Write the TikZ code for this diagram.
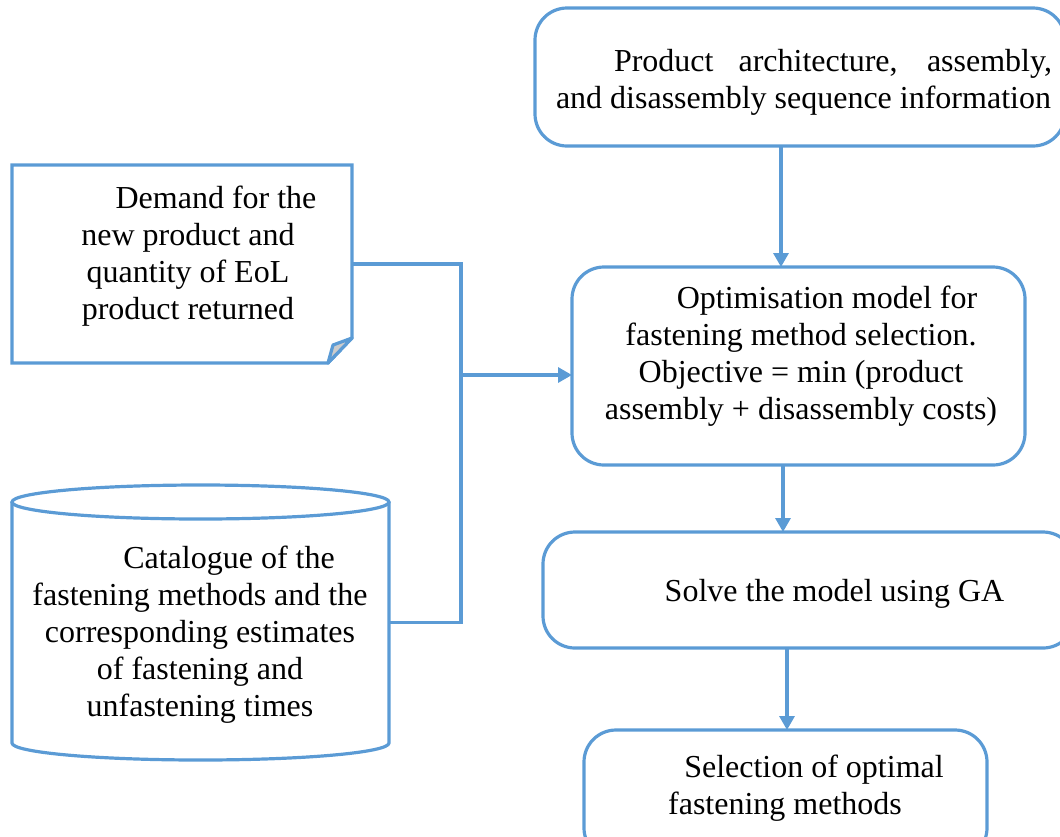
\documentclass[tikz,border=0pt]{standalone}
\usepackage{fontspec}
\setmainfont{Liberation Serif}
\usetikzlibrary{arrows.meta,calc}
\definecolor{flowblue}{HTML}{5B9BD5}
\definecolor{foldgrey}{HTML}{CCCCCC}
\begin{document}
\begin{tikzpicture}[x=0.5pt,y=-0.5pt,
  line width=1.6pt,
  every node/.style={inner sep=0pt,outer sep=0pt},
  txt/.style={font=\fontsize{16}{18.5}\selectfont,align=center},
  procbox/.style={draw=flowblue,rounded corners=16pt,line width=1.6pt},
  shapebox/.style={draw=none},
  link/.style={draw=flowblue,line width=1.6pt},
  arr/.style={link,-{Triangle[length=7pt,width=7.5pt]}}]
\clip (0,0) rectangle (1060,836);

% process boxes (right column)
\node[procbox,minimum width=265pt,minimum height=69pt] (top) at (800,77) {};
\node[procbox,minimum width=226.5pt,minimum height=99pt] (mid) at (798.5,366) {};
\node[procbox,minimum width=266pt,minimum height=58pt] (solve) at (809,590) {};
\node[procbox,minimum width=201.5pt,minimum height=65pt] (sel) at (785.5,795) {};

% document shape with folded corner
\node[shapebox,minimum width=170pt,minimum height=99pt] (dem) at (182,264) {};
\draw[flowblue] (dem.north west) -- (dem.north east)
  -- ($(dem.south east)+(0,-25)$) -- ($(dem.south east)+(-24,0)$)
  -- (dem.south west) -- cycle;
\draw[flowblue,fill=foldgrey,line join=round] ($(dem.south east)+(-24,0)$)
  -- ($(dem.south east)+(-19,-18)$) -- ($(dem.south east)+(0,-25)$) -- cycle;

% database cylinder
\node[shapebox,minimum width=188.5pt,minimum height=137.5pt] (cat) at (200.5,622.5) {};
\draw[flowblue] (12,502) -- (12,743)
  arc[start angle=180,end angle=0,x radius=188.5,y radius=17] -- (389,502);
\draw[flowblue] (200.5,502) ellipse[x radius=188.5,y radius=17];

% texts
\node[txt,text width=248pt,align=justify,anchor=west] (toptxt) at (556,82)
  {\hspace*{29pt}Product architecture, assembly,\linebreak and disassembly sequence information};
\node[txt] (demtxt) at (188,256)
  {\hspace*{28pt}Demand for the\\new product and\\quantity of EoL\\product returned};
\node[txt] (cattxt) at (200,635)
  {\hspace*{29pt}Catalogue of the\\fastening methods and the\\corresponding estimates\\of fastening and\\unfastening times};
\node[txt] (midtxt) at (801,356)
  {\hspace*{26pt}Optimisation model for\\fastening method selection.\\Objective = min (product\\assembly + disassembly costs)};
\node[txt] (solvetxt) at (834.5,594) {Solve the model using GA};
\node[txt] (seltxt) at (785,788)
  {\hspace*{29pt}Selection of optimal\\fastening methods};

% connectors
\coordinate (c1) at (781,0);
\coordinate (c2) at (783,0);
\coordinate (c3) at (787,0);
\coordinate (bus) at (461,375);
\draw[arr] (c1 |- top.south) -- (c1 |- mid.north);
\draw[link] (dem.east) -| (bus) |- (cat.east);
\draw[arr] (bus) -- (bus -| mid.west);
\draw[arr] (c2 |- mid.south) -- (c2 |- solve.north);
\draw[arr] (c3 |- solve.south) -- (c3 |- sel.north);
\end{tikzpicture}
\end{document}
